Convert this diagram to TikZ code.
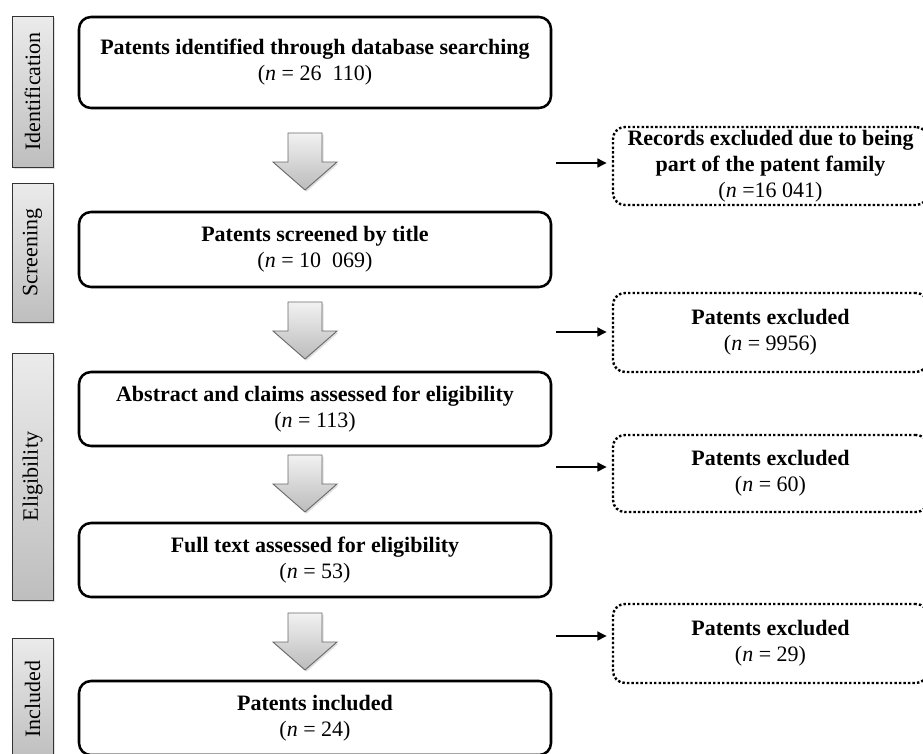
\documentclass[tikz,border=0pt]{standalone}
\usepackage{fontspec}
\setmainfont{Liberation Serif}
\usetikzlibrary{arrows.meta,shadows,calc}
\definecolor{bartop}{HTML}{EBEBEB}
\definecolor{barbot}{HTML}{BEBEBE}
\definecolor{arrtop}{HTML}{F2F2F2}
\definecolor{arrbot}{HTML}{BBBBBB}
\definecolor{arredge}{HTML}{6A6A6A}
\begin{document}
\begin{tikzpicture}[x=0.75pt,y=-0.75pt,
  txt/.style={font=\fontsize{16.5}{19.5}\selectfont},
  mainbox/.style={txt, draw=black, line width=1.9pt, rounded corners=9pt,
    minimum width=354pt, align=center, inner sep=0pt, fill=white},
  exbox/.style={txt, draw=black, line width=1.8pt, dash pattern=on 1.8pt off 1.6pt,
    rounded corners=9pt, minimum width=236.25pt, align=center, inner sep=0pt},
  sidebar/.style={draw=black!80, line width=0.7pt,
    top color=bartop, bottom color=barbot, minimum width=30.75pt, inner sep=0pt,
    drop shadow={shadow xshift=1.2pt, shadow yshift=-1.2pt, opacity=0.25}},
  sidelabel/.style={txt, rotate=90, inner sep=0pt},
  grayarrow/.style={draw=arredge, line width=0.7pt, top color=arrtop, bottom color=arrbot,
    line join=miter,
    drop shadow={shadow xshift=1.2pt, shadow yshift=-1.2pt, opacity=0.25}},
  smallarrow/.style={line width=1.6pt, -{Triangle[length=7pt,width=6.5pt]}, shorten >=3.75pt}
]
\useasboundingbox (0,0) rectangle (923,753);
\clip (0,0) rectangle (923,753);

% side bars
\node[sidebar, minimum height=113.25pt] (sid) at (32.5,91.5) {};
\node[sidebar, minimum height=104.25pt] (sscr) at (32.5,252.5) {};
\node[sidebar, minimum height=185.25pt] (selig) at (32.5,476.5) {};
\node[sidebar, minimum height=91.5pt] (sinc) at (32.5,699) {};
\node[sidelabel] (lid) at (sid) {Identification};
\node[sidelabel] (lscr) at (sscr) {Screening};
\node[sidelabel] (lelig) at (selig) {Eligibility};
\node[sidelabel] (linc) at (sinc) {Included};

% main boxes
\node[mainbox, minimum height=68.25pt] (b1) at (315,62.5)
  {\textbf{Patents identified through database searching}\\(\textit{n} = 26\enspace110)};
\node[mainbox, minimum height=56.25pt] (b2) at (315,249.5)
  {\textbf{Patents screened by title}\\(\textit{n} = 10\enspace069)};
\node[mainbox, minimum height=55.5pt] (b3) at (315,409)
  {\textbf{Abstract and claims assessed for eligibility}\\(\textit{n} = 113)};
\node[mainbox, minimum height=55.5pt] (b4) at (315,560)
  {\textbf{Full text assessed for eligibility}\\(\textit{n} = 53)};
\node[mainbox, minimum height=55.5pt] (b5) at (315,718)
  {\textbf{Patents included}\\(\textit{n} = 24)};

% exclusion boxes
\node[exbox, minimum height=58.5pt] (eA) at (770.5,166)
  {\textbf{Records excluded due to being}\\\textbf{part of the patent family}\\(\textit{n} =16 041)};
\node[exbox, minimum height=59.25pt] (eB) at (770.5,332.5)
  {\textbf{Patents excluded}\\(\textit{n} = 9956)};
\node[exbox, minimum height=57.75pt] (eC) at (770.5,473.5)
  {\textbf{Patents excluded}\\(\textit{n} = 60)};
\node[exbox, minimum height=59.25pt] (eD) at (770.5,643.5)
  {\textbf{Patents excluded}\\(\textit{n} = 29)};

% gray block arrows
\coordinate (a1) at (305,133);
\coordinate (a2) at (305,302);
\coordinate (a3) at (305,455);
\coordinate (a4) at (305,613);
\foreach \a in {a1,a2,a3,a4}{
  \shade[grayarrow, shift={(\a)}] (-17,0) -- (17,0) -- (17,29) -- (32,29) -- (0,57)
    -- (-32,29) -- (-17,29) -- cycle;
}

% small arrows
\coordinate (sA) at (556,163);
\coordinate (sB) at (556,332);
\coordinate (sC) at (556,467);
\coordinate (sD) at (556,636);
\draw[smallarrow] (sA) -- (sA -| eA.west);
\draw[smallarrow] (sB) -- (sB -| eB.west);
\draw[smallarrow] (sC) -- (sC -| eC.west);
\draw[smallarrow] (sD) -- (sD -| eD.west);
\end{tikzpicture}
\end{document}
